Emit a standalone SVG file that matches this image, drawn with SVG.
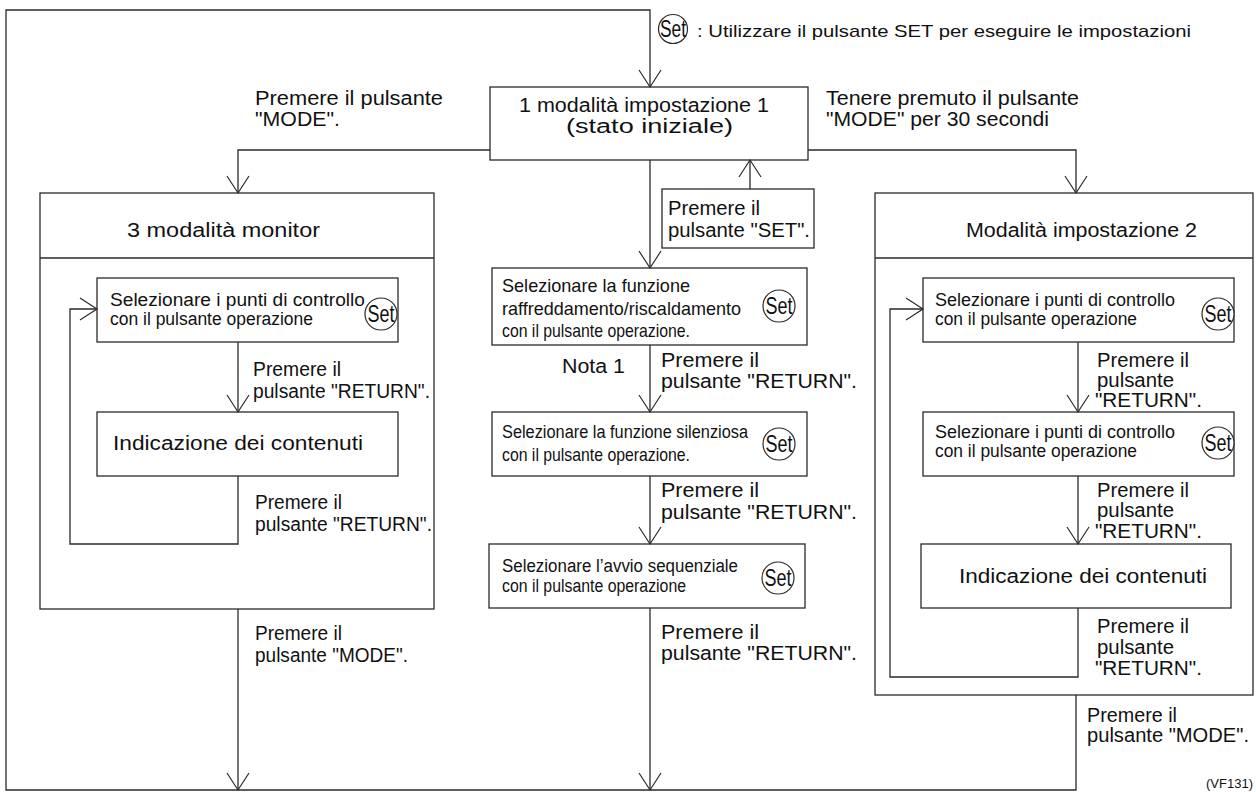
<svg xmlns="http://www.w3.org/2000/svg" width="1256" height="792" viewBox="0 0 1256 792">
  <style>
    .ln { fill: none; stroke: #2a2a2a; stroke-width: 1.3; }
    .bx { fill: none; stroke: #2a2a2a; stroke-width: 1.3; }
    .cr { fill: #ffffff; stroke: #2a2a2a; stroke-width: 1.2; }
    text { font-family: "Liberation Sans", Arial, sans-serif; fill: #111; }
    .lb { font-size: 20px; }
    .tt { font-size: 20px; }
    .sm { font-size: 18px; }
    .cn { font-size: 18.5px; }
    .nt { font-size: 17px; }
    .st { font-size: 23px; text-anchor: middle; }
    .ref { font-size: 13px; }
  </style>
  <defs>
    <marker id="vee" viewBox="-18 -13 20 26" markerWidth="20" markerHeight="26" refX="0" refY="0" orient="auto" markerUnits="userSpaceOnUse">
      <path d="M -17 -11 L 0 0 L -17 11" fill="none" stroke="#2a2a2a" stroke-width="1.2"/>
    </marker>
  </defs>

  <rect width="1256" height="792" fill="#ffffff"/>

  <!-- legend -->
  <g id="legend">
    <circle class="cr" cx="673" cy="29" r="14.5"/>
    <text class="st" x="673" y="37" textLength="26" lengthAdjust="spacingAndGlyphs">Set</text>
    <text class="nt" x="697" y="37" textLength="494" lengthAdjust="spacingAndGlyphs">: Utilizzare il pulsante SET per eseguire le impostazioni</text>
  </g>

  <!-- initial setting mode -->
  <g id="mode1">
    <rect class="bx" x="490" y="87" width="318" height="73"/>
    <text class="tt" x="519" y="112" textLength="250" lengthAdjust="spacingAndGlyphs">1 modalità impostazione 1</text>
    <text class="tt" x="566" y="133" textLength="167" lengthAdjust="spacingAndGlyphs">(stato iniziale)</text>
  </g>

  <!-- monitor mode -->
  <g id="monitor">
    <rect class="bx" x="40" y="193" width="394" height="416"/>
    <line class="ln" x1="40" y1="258" x2="434" y2="258"/>
    <text class="tt" x="127" y="237" textLength="193" lengthAdjust="spacingAndGlyphs">3 modalità monitor</text>
  </g>
  <g id="mon-select">
    <rect class="bx" x="97" y="278" width="301" height="64"/>
    <text class="sm" x="110" y="306" textLength="255" lengthAdjust="spacingAndGlyphs">Selezionare i punti di controllo</text>
    <text class="sm" x="110" y="325" textLength="203" lengthAdjust="spacingAndGlyphs">con il pulsante operazione</text>
    <circle class="cr" cx="381" cy="314" r="16"/>
    <text class="st" x="381" y="322" textLength="27" lengthAdjust="spacingAndGlyphs">Set</text>
  </g>
  <g id="mon-display">
    <rect class="bx" x="97" y="412" width="301" height="64"/>
    <text class="tt" x="113" y="450" textLength="250" lengthAdjust="spacingAndGlyphs">Indicazione dei contenuti</text>
  </g>

  <!-- set button step -->
  <g id="set-note">
    <rect class="bx" x="662" y="189" width="152" height="59"/>
    <text class="lb" x="668" y="215" textLength="92" lengthAdjust="spacingAndGlyphs">Premere il</text>
    <text class="lb" x="668" y="237" textLength="142" lengthAdjust="spacingAndGlyphs">pulsante "SET".</text>
  </g>

  <!-- mode 1 settings -->
  <g id="cool-heat">
    <rect class="bx" x="492" y="268" width="315" height="77"/>
    <text class="cn" x="502" y="292" textLength="188" lengthAdjust="spacingAndGlyphs">Selezionare la funzione</text>
    <text class="cn" x="502" y="315" textLength="239" lengthAdjust="spacingAndGlyphs">raffreddamento/riscaldamento</text>
    <text class="cn" x="502" y="337" textLength="188" lengthAdjust="spacingAndGlyphs">con il pulsante operazione.</text>
    <circle class="cr" cx="779" cy="306" r="16"/>
    <text class="st" x="779" y="314" textLength="27" lengthAdjust="spacingAndGlyphs">Set</text>
  </g>
  <g id="silent">
    <rect class="bx" x="492" y="412" width="315" height="64"/>
    <text class="sm" x="502" y="438" textLength="246" lengthAdjust="spacingAndGlyphs">Selezionare la funzione silenziosa</text>
    <text class="cn" x="502" y="461" textLength="188" lengthAdjust="spacingAndGlyphs">con il pulsante operazione.</text>
    <circle class="cr" cx="779" cy="444" r="16"/>
    <text class="st" x="779" y="452" textLength="27" lengthAdjust="spacingAndGlyphs">Set</text>
  </g>
  <g id="sequential">
    <rect class="bx" x="489" y="544" width="316" height="64"/>
    <text class="sm" x="502" y="572" textLength="236" lengthAdjust="spacingAndGlyphs">Selezionare l’avvio sequenziale</text>
    <text class="sm" x="502" y="592" textLength="184" lengthAdjust="spacingAndGlyphs">con il pulsante operazione</text>
    <circle class="cr" cx="778" cy="578" r="16"/>
    <text class="st" x="778" y="586" textLength="27" lengthAdjust="spacingAndGlyphs">Set</text>
  </g>

  <!-- setting mode 2 -->
  <g id="mode2">
    <rect class="bx" x="875" y="193" width="378" height="502"/>
    <line class="ln" x1="875" y1="258" x2="1253" y2="258"/>
    <text class="tt" x="966" y="237" textLength="231" lengthAdjust="spacingAndGlyphs">Modalità impostazione 2</text>
  </g>
  <g id="m2-select-a">
    <rect class="bx" x="923" y="278" width="311" height="64"/>
    <text class="sm" x="935" y="306" textLength="240" lengthAdjust="spacingAndGlyphs">Selezionare i punti di controllo</text>
    <text class="sm" x="935" y="325" textLength="202" lengthAdjust="spacingAndGlyphs">con il pulsante operazione</text>
    <circle class="cr" cx="1218" cy="314" r="16"/>
    <text class="st" x="1218" y="322" textLength="27" lengthAdjust="spacingAndGlyphs">Set</text>
  </g>
  <g id="m2-select-b">
    <rect class="bx" x="923" y="412" width="311" height="64"/>
    <text class="sm" x="935" y="438" textLength="240" lengthAdjust="spacingAndGlyphs">Selezionare i punti di controllo</text>
    <text class="sm" x="935" y="457" textLength="202" lengthAdjust="spacingAndGlyphs">con il pulsante operazione</text>
    <circle class="cr" cx="1218" cy="443" r="16"/>
    <text class="st" x="1218" y="451" textLength="27" lengthAdjust="spacingAndGlyphs">Set</text>
  </g>
  <g id="m2-display">
    <rect class="bx" x="921" y="544" width="310" height="64"/>
    <text class="tt" x="959" y="583" textLength="248" lengthAdjust="spacingAndGlyphs">Indicazione dei contenuti</text>
  </g>

  <!-- connectors -->
  <g id="connectors">
    <path class="ln" d="M 1076 695 V 790 H 6 V 10 H 650 V 87" marker-end="url(#vee)"/>
    <path class="ln" d="M 490 150 H 238 V 193" marker-end="url(#vee)"/>
    <path class="ln" d="M 808 150 H 1076 V 193" marker-end="url(#vee)"/>
    <path class="ln" d="M 238 342 V 412" marker-end="url(#vee)"/>
    <path class="ln" d="M 238 476 V 544 H 70 V 309 H 97" marker-end="url(#vee)"/>
    <path class="ln" d="M 238 609 V 790" marker-end="url(#vee)"/>
    <path class="ln" d="M 650 160 V 268" marker-end="url(#vee)"/>
    <path class="ln" d="M 750 189 V 160" marker-end="url(#vee)"/>
    <path class="ln" d="M 650 345 V 412" marker-end="url(#vee)"/>
    <path class="ln" d="M 650 476 V 544" marker-end="url(#vee)"/>
    <path class="ln" d="M 650 608 V 790" marker-end="url(#vee)"/>
    <path class="ln" d="M 1078 342 V 412" marker-end="url(#vee)"/>
    <path class="ln" d="M 1078 476 V 544" marker-end="url(#vee)"/>
    <path class="ln" d="M 1078 608 V 677 H 890 V 309 H 923" marker-end="url(#vee)"/>
  </g>

  <!-- connector labels -->
  <g id="labels">
    <text class="lb" x="255" y="105" textLength="188" lengthAdjust="spacingAndGlyphs">Premere il pulsante</text>
    <text class="lb" x="255" y="126" textLength="85" lengthAdjust="spacingAndGlyphs">"MODE".</text>
    <text class="lb" x="826" y="105" textLength="253" lengthAdjust="spacingAndGlyphs">Tenere premuto il pulsante</text>
    <text class="lb" x="826" y="126" textLength="223" lengthAdjust="spacingAndGlyphs">"MODE" per 30 secondi</text>

    <text class="lb" x="253" y="376" textLength="88" lengthAdjust="spacingAndGlyphs">Premere il</text>
    <text class="lb" x="253" y="398" textLength="177" lengthAdjust="spacingAndGlyphs">pulsante "RETURN".</text>
    <text class="lb" x="255" y="509" textLength="87" lengthAdjust="spacingAndGlyphs">Premere il</text>
    <text class="lb" x="255" y="531" textLength="177" lengthAdjust="spacingAndGlyphs">pulsante "RETURN".</text>
    <text class="lb" x="255" y="640" textLength="87" lengthAdjust="spacingAndGlyphs">Premere il</text>
    <text class="lb" x="255" y="662" textLength="153" lengthAdjust="spacingAndGlyphs">pulsante "MODE".</text>

    <text class="lb" x="562" y="373" textLength="63" lengthAdjust="spacingAndGlyphs">Nota 1</text>
    <text class="lb" x="661" y="367" textLength="98" lengthAdjust="spacingAndGlyphs">Premere il</text>
    <text class="lb" x="661" y="388" textLength="196" lengthAdjust="spacingAndGlyphs">pulsante "RETURN".</text>
    <text class="lb" x="661" y="497" textLength="98" lengthAdjust="spacingAndGlyphs">Premere il</text>
    <text class="lb" x="661" y="519" textLength="196" lengthAdjust="spacingAndGlyphs">pulsante "RETURN".</text>
    <text class="lb" x="661" y="639" textLength="98" lengthAdjust="spacingAndGlyphs">Premere il</text>
    <text class="lb" x="661" y="660" textLength="196" lengthAdjust="spacingAndGlyphs">pulsante "RETURN".</text>

    <text class="lb" x="1097" y="367" textLength="92" lengthAdjust="spacingAndGlyphs">Premere il</text>
    <text class="lb" x="1097" y="387" textLength="77" lengthAdjust="spacingAndGlyphs">pulsante</text>
    <text class="lb" x="1095" y="407" textLength="107" lengthAdjust="spacingAndGlyphs">"RETURN".</text>
    <text class="lb" x="1097" y="497" textLength="92" lengthAdjust="spacingAndGlyphs">Premere il</text>
    <text class="lb" x="1097" y="517" textLength="77" lengthAdjust="spacingAndGlyphs">pulsante</text>
    <text class="lb" x="1095" y="538" textLength="107" lengthAdjust="spacingAndGlyphs">"RETURN".</text>
    <text class="lb" x="1097" y="633" textLength="92" lengthAdjust="spacingAndGlyphs">Premere il</text>
    <text class="lb" x="1097" y="654" textLength="77" lengthAdjust="spacingAndGlyphs">pulsante</text>
    <text class="lb" x="1095" y="675" textLength="107" lengthAdjust="spacingAndGlyphs">"RETURN".</text>
    <text class="lb" x="1087" y="722" textLength="90" lengthAdjust="spacingAndGlyphs">Premere il</text>
    <text class="lb" x="1087" y="742" textLength="162" lengthAdjust="spacingAndGlyphs">pulsante "MODE".</text>
  </g>

  <text class="ref" x="1206" y="788">(VF131)</text>
</svg>
